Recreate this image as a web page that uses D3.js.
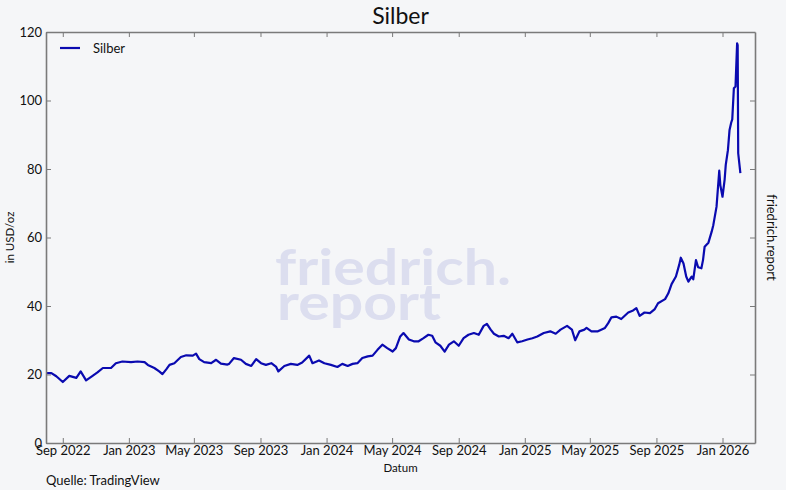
<!DOCTYPE html>
<html><head><meta charset="utf-8">
<script src="https://cdn.jsdelivr.net/npm/d3@7/dist/d3.min.js"></script>
<style>
html,body{margin:0;padding:0;background:#f5f6f8;}
svg{display:block;}
text{font-family:Lato,"Open Sans",sans-serif;fill:#111;}
</style></head>
<body>
<svg id="chart" width="786" height="490"></svg>
<script>
// ---- data ----
const dates = [
 "2022-08-01","2022-08-11","2022-08-20","2022-09-01","2022-09-13","2022-09-26",
 "2022-10-04","2022-10-14","2022-10-26","2022-11-04","2022-11-14","2022-11-29",
 "2022-12-08","2022-12-20","2023-01-05","2023-01-17","2023-01-30","2023-02-05",
 "2023-02-17","2023-02-26","2023-03-04","2023-03-11","2023-03-17","2023-03-26",
 "2023-04-07","2023-04-17","2023-04-29","2023-05-05","2023-05-11","2023-05-20",
 "2023-06-02","2023-06-11","2023-06-20","2023-07-02","2023-07-05","2023-07-14",
 "2023-07-27","2023-08-05","2023-08-15","2023-08-24","2023-09-02","2023-09-11",
 "2023-09-21","2023-09-30","2023-10-04","2023-10-15","2023-10-27","2023-11-08",
 "2023-11-17","2023-11-30","2023-12-06","2023-12-18","2023-12-28","2024-01-09",
 "2024-01-21","2024-01-30","2024-02-09","2024-02-18","2024-02-27","2024-03-07",
 "2024-03-17","2024-03-26","2024-04-04","2024-04-13","2024-04-22","2024-05-02",
 "2024-05-08","2024-05-16","2024-05-22","2024-06-01","2024-06-10","2024-06-19",
 "2024-06-28","2024-07-07","2024-07-14","2024-07-20","2024-07-29","2024-08-06",
 "2024-08-14","2024-08-23","2024-09-01","2024-09-10","2024-09-19","2024-09-29",
 "2024-10-08","2024-10-17","2024-10-23","2024-10-30","2024-11-05","2024-11-14",
 "2024-11-23","2024-12-02","2024-12-09","2024-12-18","2024-12-27","2025-01-06",
 "2025-01-15","2025-01-24","2025-02-05","2025-02-17","2025-02-27","2025-03-08",
 "2025-03-20","2025-03-29","2025-04-04","2025-04-12","2025-04-21","2025-04-25",
 "2025-05-04","2025-05-16","2025-05-29","2025-06-04","2025-06-10","2025-06-19",
 "2025-06-28","2025-07-11","2025-07-20","2025-07-26","2025-08-01","2025-08-10",
 "2025-08-20","2025-08-29","2025-09-04","2025-09-17","2025-09-23","2025-09-29",
 "2025-10-07","2025-10-13","2025-10-16","2025-10-21","2025-10-26","2025-10-30",
 "2025-11-05","2025-11-08","2025-11-13","2025-11-17","2025-11-23","2025-11-26",
 "2025-11-29","2025-12-06","2025-12-12","2025-12-15","2025-12-21","2025-12-26",
 "2025-12-28","2026-01-01","2026-01-05","2026-01-07","2026-01-11","2026-01-14",
 "2026-01-17","2026-01-19","2026-01-22","2026-01-25","2026-01-28","2026-01-29",
 "2026-01-30","2026-02-03"
];
const silver = [
 20.4,20.4,19.5,17.8,19.6,19.0,
 20.9,18.3,19.6,20.6,21.9,21.9,
 23.3,23.8,23.6,23.8,23.6,22.8,
 21.9,20.9,20.1,21.5,22.8,23.3,
 25.1,25.6,25.5,26.1,24.5,23.6,
 23.3,24.3,23.2,22.9,23.1,24.8,
 24.3,23.1,22.5,24.5,23.3,22.8,
 23.3,22.2,20.9,22.5,23.1,22.8,
 23.5,25.5,23.3,24.1,23.3,22.8,
 22.2,23.1,22.5,23.1,23.3,24.8,
 25.3,25.5,27.2,28.7,27.7,26.7,
 27.7,31.1,32.1,30.2,29.7,29.7,
 30.6,31.6,31.3,29.4,28.4,26.7,
 28.7,29.7,28.4,30.6,31.6,32.1,
 31.6,34.2,34.8,33.1,31.9,31.1,
 31.3,30.6,31.9,29.4,29.7,30.2,
 30.6,31.1,32.1,32.6,31.9,33.1,
 34.2,33.1,30.0,32.6,33.1,33.6,
 32.6,32.6,33.6,35.0,36.7,36.9,
 36.2,38.1,38.7,39.4,37.1,38.1,
 37.9,39.1,40.8,42.0,43.7,46.4,
 48.6,52.0,54.1,52.4,48.6,47.1,
 48.6,47.8,53.4,51.3,51.0,53.4,
 57.3,58.5,61.7,63.6,69.0,79.5,
 75.3,71.9,77.0,81.2,85.5,91.4,
 93.5,94.5,103.6,104.1,116.7,116.2,
 84.6,78.8
];
const yTicks = [0,20,40,60,80,100,120];
const xTickDates = ["2022-09-01","2023-01-01","2023-05-01","2023-09-01","2024-01-01","2024-05-01",
 "2024-09-01","2025-01-01","2025-05-01","2025-09-01","2026-01-01"];
const xDomain = ["2022-08-01","2026-03-02"];
const seriesName = "Silber";

// ---- layout ----
const W = 786, H = 490;
const m = {left:46, right:755, top:32, bottom:443};
const parse = d3.timeParse("%Y-%m-%d");
const data = dates.map((d,i)=>({date:parse(d), v:silver[i]}));

const svg = d3.select("#chart");
svg.append("rect").attr("width",W).attr("height",H).attr("fill","#f5f6f8");

const x = d3.scaleTime().domain(xDomain.map(parse)).range([m.left, m.right]);
const y = d3.scaleLinear().domain([0,120]).range([m.bottom, m.top]);

// watermark
const wm = svg.append("g").style("font-weight","700");
wm.append("text").attr("x",275).attr("y",285).attr("font-size",50)
  .attr("textLength",236).attr("lengthAdjust","spacingAndGlyphs")
  .style("fill","#dcdeef").style("font-family","Lato, sans-serif").text("friedrich.");
wm.append("text").attr("x",277).attr("y",320).attr("font-size",50)
  .attr("textLength",164).attr("lengthAdjust","spacingAndGlyphs")
  .style("fill","#dcdeef").style("font-family","Lato, sans-serif").text("report");

// line
const line = d3.line().x(d=>x(d.date)).y(d=>y(d.v));
svg.append("path").datum(data).attr("d",line)
  .attr("fill","none").attr("stroke","#0a0ab0").attr("stroke-width",2.2)
  .attr("stroke-linejoin","round");

// axes (ticks inside, classic style)
const axisColor = "#7a7a7a";
const xTicks = xTickDates.map(parse);
const gB = svg.append("g").attr("transform",`translate(0,${m.bottom})`)
  .call(d3.axisBottom(x).tickValues(xTicks).tickFormat(d3.timeFormat("%b %Y")).tickSizeInner(-5).tickSizeOuter(0).tickPadding(3));
const gT = svg.append("g").attr("transform",`translate(0,${m.top})`)
  .call(d3.axisTop(x).tickValues(xTicks).tickFormat("").tickSizeInner(-5).tickSizeOuter(0));
const gL = svg.append("g").attr("transform",`translate(${m.left},0)`)
  .call(d3.axisLeft(y).tickValues(yTicks).tickSizeInner(-5).tickSizeOuter(0).tickPadding(4));
const gR = svg.append("g").attr("transform",`translate(${m.right},0)`)
  .call(d3.axisRight(y).tickValues(yTicks).tickFormat("").tickSizeInner(-5).tickSizeOuter(0));
[gB,gT,gL,gR].forEach(g=>{
  g.select(".domain").attr("stroke",axisColor).attr("stroke-width",1.6);
  g.selectAll(".tick line").attr("stroke",axisColor).attr("stroke-width",1);
  g.selectAll("text").style("font-size","13px").style("fill","#111").style("font-family","Lato, sans-serif");
});
gB.selectAll("text").attr("y",3).attr("dy","0.71em");

// titles
svg.append("text").attr("x",(m.left+m.right)/2).attr("y",24).attr("text-anchor","middle")
  .style("font-size","23px").text("Silber");
svg.append("text").attr("x",(m.left+m.right)/2).attr("y",472).attr("text-anchor","middle")
  .style("font-size","11.5px").text("Datum");
svg.append("text").attr("transform",`translate(14,${(m.top+m.bottom)/2}) rotate(-90)`)
  .attr("text-anchor","middle").style("font-size","11.5px").text("in USD/oz");
svg.append("text").attr("transform",`translate(767,${(m.top+m.bottom)/2}) rotate(90)`)
  .attr("text-anchor","middle").style("font-size","13px").text("friedrich.report");
svg.append("text").attr("x",46).attr("y",485).style("font-size","13px").text("Quelle: TradingView");

// legend
const lg = svg.append("g");
lg.append("line").attr("x1",60).attr("x2",80).attr("y1",48).attr("y2",48)
  .attr("stroke","#0a0ab0").attr("stroke-width",2.2);
lg.append("text").attr("x",93).attr("y",52.5).style("font-size","13px").text(seriesName);
</script>
</body></html>
